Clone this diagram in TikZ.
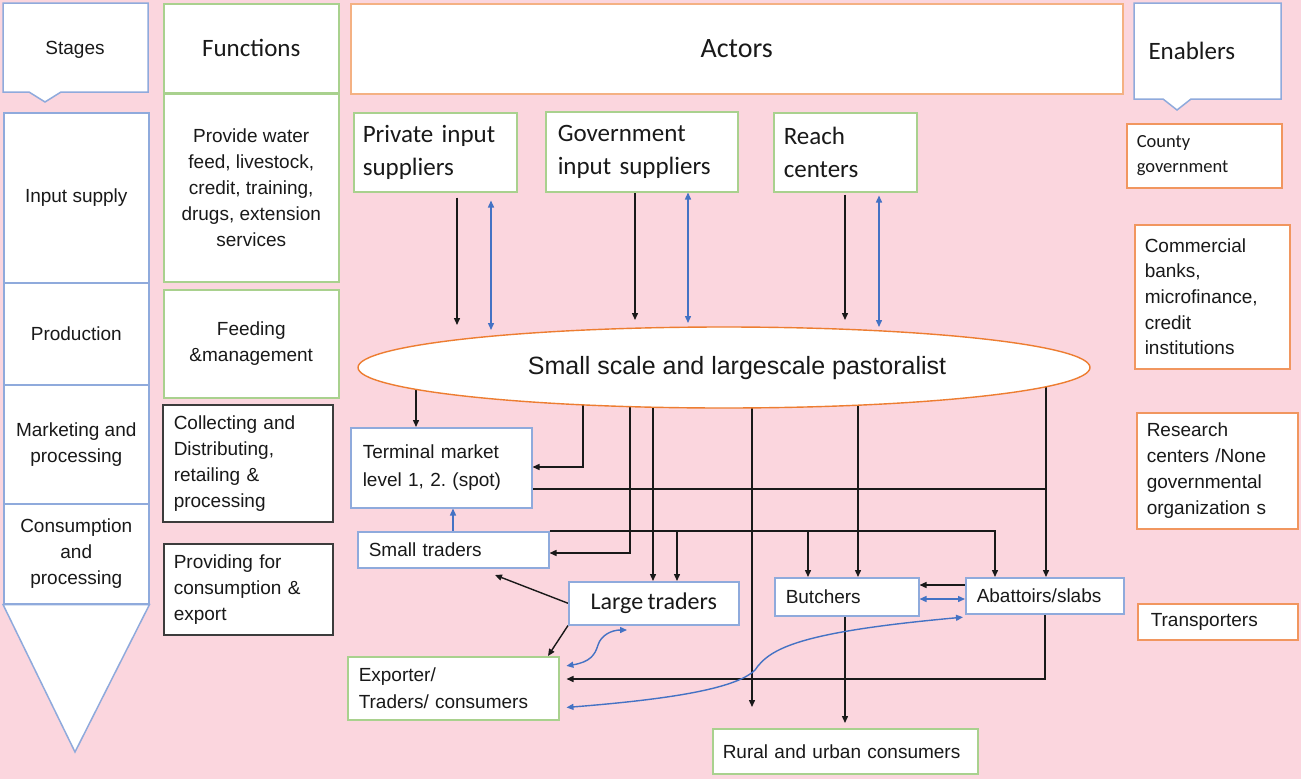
\documentclass[tikz,border=0pt]{standalone}
\usepackage{fontspec}
\setmainfont{Liberation Sans}
\newfontfamily\calib[WordSpace=0.8]{Carlito}
\usetikzlibrary{arrows.meta,shapes.geometric}
\pgfdeclarelayer{bg}
\pgfdeclarelayer{lines}
\pgfsetlayers{bg,lines,main}
\definecolor{pinkbg}{RGB}{251,214,222}
\definecolor{bborder}{RGB}{143,170,220}
\definecolor{gborder}{RGB}{169,209,142}
\definecolor{oborder}{RGB}{244,177,131}
\definecolor{eborder}{RGB}{241,150,95}
\definecolor{oline}{RGB}{237,125,49}
\definecolor{barrow}{RGB}{68,114,196}
\definecolor{kline}{RGB}{25,25,25}
\definecolor{txt}{RGB}{25,25,25}
\frenchspacing
\tikzset{
  base/.style={draw, fill=white, line width=1.5pt, inner ysep=0pt, anchor=north west, text=txt},
  bbox/.style={base, draw=bborder},
  gbox/.style={base, draw=gborder},
  obox/.style={base, draw=oborder},
  ebox/.style={base, draw=eborder},
  kbox/.style={base, draw=kline!85},
  ar/.style={font=\frenchspacing\fontsize{19}{26}\selectfont},
  ca/.style={font=\calib\fontsize{25}{33}\selectfont},
  conn/.style={draw=kline, line width=1.4pt, ->},
  plain/.style={draw=kline, line width=1.4pt},
  bconn/.style={draw=barrow, line width=1.4pt, <->},
  bconnone/.style={draw=barrow, line width=1.4pt, ->},
  shapeline/.style={line width=1.5pt, fill=white},
}
\begin{document}
\frenchspacing
\begin{tikzpicture}[x=1pt,y=-1pt,>={Triangle[length=7pt,width=6pt]}]
\useasboundingbox (0,0) rectangle (1301,779);
\begin{pgfonlayer}{bg}
\fill[pinkbg] (0,0) rectangle (1301,779);
\end{pgfonlayer}

% ---------- Stages column ----------
\draw[shapeline, draw=bborder] (3,3) -- (148,3) -- (148,92) -- (61,92) -- (45,102) -- (29,92) -- (3,92) -- cycle;
\node[ar, text=txt] (stagesT) at (75,50) {Stages};
\node[bbox, ar, minimum width=145pt, minimum height=170pt] (input) at (3,112) {Input supply};
\node[bbox, ar, minimum width=145pt, minimum height=102pt] (prod) at (3,282) {Production};
\node[bbox, ar, align=center, minimum width=145pt, minimum height=119pt] (mark) at (3,384) {Marketing and\\processing};
\node[bbox, ar, align=center, minimum width=145pt, minimum height=100pt] (cons) at (3,503) {Consumption\\and\\processing};
\coordinate (ctip) at (75,752);
\draw[shapeline, draw=bborder] (cons.south west) -- (cons.south east) -- (ctip) -- cycle;

% ---------- Functions column ----------
\node[gbox, ca, minimum width=175pt, minimum height=89pt] (funcs) at (163,3) {Functions};
\node[gbox, ar, align=center, minimum width=175pt, minimum height=188pt] (fwater) at (163,93) {Provide water\\feed, livestock,\\credit, training,\\drugs, extension\\services};
\node[gbox, ar, align=center, minimum width=175pt, minimum height=108pt] (ffeed) at (163,289) {Feeding\\\&management};
\node[kbox, ar, text width=148pt, inner xsep=11pt, align=left, minimum height=117pt] (fcoll) at (162,404) {Collecting and\\Distributing,\\retailing \&\\processing};
\node[kbox, ar, text width=149pt, inner xsep=10pt, align=left, minimum height=91pt] (fprov) at (163,543) {Providing for\\consumption \&\\export};

% ---------- Actors ----------
\node[obox, font=\calib\fontsize{28}{34}\selectfont, minimum width=772pt, minimum height=90pt] (actors) at (350,3) {Actors};

% ---------- Enablers ----------
\draw[shapeline, draw=bborder] (1134,3) -- (1281,3) -- (1281,99) -- (1191,99) -- (1177,110) -- (1163,99) -- (1134,99) -- cycle;
\node[ca, anchor=west, text=txt] (enabT) at (1145,51) {Enablers};
\node[ebox, font=\calib\fontsize{18.5}{25}\selectfont, text width=135pt, inner xsep=10pt, align=left, minimum height=64pt] (county) at (1126,123) {County\\government};
\node[ebox, font=\frenchspacing\fontsize{19}{25.7}\selectfont, text width=135pt, inner xsep=10pt, align=left, minimum height=144pt] (banks) at (1134,224) {Commercial\\banks,\\microfinance,\\credit\\institutions};
\node[ebox, font=\frenchspacing\fontsize{19}{26}\selectfont, text width=141pt, inner xsep=10pt, align=left, minimum height=116pt] (research) at (1136,412) {Research\\centers /None\\governmental\\organization s};
\node[ebox, ar, text width=134pt, inner xsep=13pt, align=left, minimum height=36pt] (transp) at (1137,603) {Transporters};

% ---------- Actor boxes ----------
\node[gbox, ca, text width=145pt, inner xsep=9pt, align=left, minimum height=79pt] (priv) at (353,112) {Private input\\suppliers};
\node[gbox, ca, text width=168pt, inner xsep=12pt, align=left, minimum height=80pt] (gov) at (545,111) {Government\\input suppliers};
\node[gbox, ca, text width=123pt, inner xsep=10pt, align=left, minimum height=79pt] (reach) at (773,112) {Reach\\centers};

\node[draw=oline, fill=white, ellipse, line width=1.4pt, minimum width=732pt, minimum height=81pt, inner sep=0pt] (ell) at (724,367.5) {};
\node[font=\fontsize{25}{30}\selectfont, text=txt] (ellT) at (737,368) {Small scale and largescale pastoralist};

\node[bbox, font=\frenchspacing\fontsize{19}{28}\selectfont, text width=157pt, inner xsep=12pt, align=left, minimum height=80pt] (term) at (350,427) {Terminal market\\level 1, 2. (spot)};
\node[bbox, ar, text width=169pt, inner xsep=11pt, align=left, minimum height=36pt] (small) at (357,531) {Small traders};
\node[bbox, font=\calib\fontsize{24}{30}\selectfont, minimum width=170pt, minimum height=43pt] (large) at (568,581) {Large traders};
\node[bbox, ar, text width=122pt, inner xsep=11pt, align=left, minimum height=38pt] (butch) at (774,577) {Butchers};
\node[bbox, ar, text width=136pt, inner xsep=11pt, align=left, minimum height=36pt] (abat) at (965,577) {Abattoirs/slabs};
\node[gbox, font=\frenchspacing\fontsize{19}{27}\selectfont, text width=189pt, inner xsep=11pt, align=left, minimum height=63pt] (exp) at (347,656) {Exporter/\\Traders/ consumers};
\node[gbox, ar, text width=245pt, inner xsep=10pt, align=left, minimum height=45pt] (rural) at (712,728) {Rural and urban consumers};

% ---------- coordinates ----------
\coordinate (p1) at (457,325);
\coordinate (p2) at (491,330);
\coordinate (g1) at (635,320);
\coordinate (g2) at (688,323);
\coordinate (r1) at (845,320);
\coordinate (r2) at (879,327);
\coordinate (e1) at (416,367);
\coordinate (e2) at (583,367);
\coordinate (k2) at (583,467);
\coordinate (j3) at (1046,489);
\coordinate (e4) at (1046,367);
\coordinate (k5) at (995,531);
\coordinate (b5a) at (677,531);
\coordinate (b5b) at (808,531);
\coordinate (e6) at (630,367);
\coordinate (k6) at (630,553);
\coordinate (e7) at (653,367);
\coordinate (e8) at (752,367);
\coordinate (e8end) at (752,707);
\coordinate (e9) at (858,367);
\coordinate (y10) at (0,585);
\coordinate (x11) at (845,0);
\coordinate (x12) at (1045,0);
\coordinate (k12) at (1045,679);
\coordinate (t13) at (495,575);
\coordinate (t14) at (548,656);
\coordinate (xb4) at (453,0);
\coordinate (y5) at (0,599);
\coordinate (yA) at (0,708);
\coordinate (yB) at (0,617);
\coordinate (yC) at (0,667);
\coordinate (t7) at (627,630);

\begin{pgfonlayer}{lines}
% top arrows
\draw[conn, shorten <=5pt] (priv.south -| p1) -- (p1);
\draw[bconn, shorten <=8pt] (priv.south -| p2) -- (p2);
\draw[conn] (gov.south -| g1) -- (g1);
\draw[bconn] (gov.south -| g2) -- (g2);
\draw[conn, shorten <=2pt] (reach.south -| r1) -- (r1);
\draw[bconn, shorten <=3pt] (reach.south -| r2) -- (r2);
% from pastoralists
\draw[conn] (e1) -- (term.north -| e1);
\draw[conn] (e2) -- (k2) -- (term.east |- k2);
\draw[plain] (term.east |- j3) -- (j3);
\draw[conn] (e4) -- (abat.north -| e4);
\draw[conn] (small.north east) -- (k5) -- (abat.north -| k5);
\draw[conn] (b5a) -- (large.north -| b5a);
\draw[conn] (b5b) -- (butch.north -| b5b);
\draw[conn] (e6) -- (k6) -- (small.east |- k6);
\draw[conn] (e7) -- (large.north -| e7);
\draw[conn] (e8) -- (e8end);
\draw[conn] (e9) -- (butch.north -| e9);
\draw[conn] (abat.west |- y10) -- (butch.east |- y10);
\draw[conn, shorten >=5pt] (butch.south -| x11) -- (rural.north -| x11);
\draw[conn, shorten >=7pt] (abat.south -| x12) -- (k12) -- (exp.east |- k12);
\draw[conn] (large.west) -- (t13);
\draw[conn] (large.south west) -- (t14);
% blue
\draw[bconnone] (small.north -| xb4) -- (term.south -| xb4);
\draw[bconn] (butch.east |- y5) -- (abat.west |- y5);
\draw[bconn, shorten <=7pt, shorten >=2pt] (exp.east |- yA) .. controls (660,700) and (735,690) .. (755,670) .. controls (770,648) and (800,632) .. (abat.west |- yB);
\draw[bconn, shorten <=7pt] (exp.east |- yC) .. controls (590,662) and (595,655) .. (598,645) .. controls (601,635) and (612,630) .. (t7);
\end{pgfonlayer}
\end{tikzpicture}
\end{document}
